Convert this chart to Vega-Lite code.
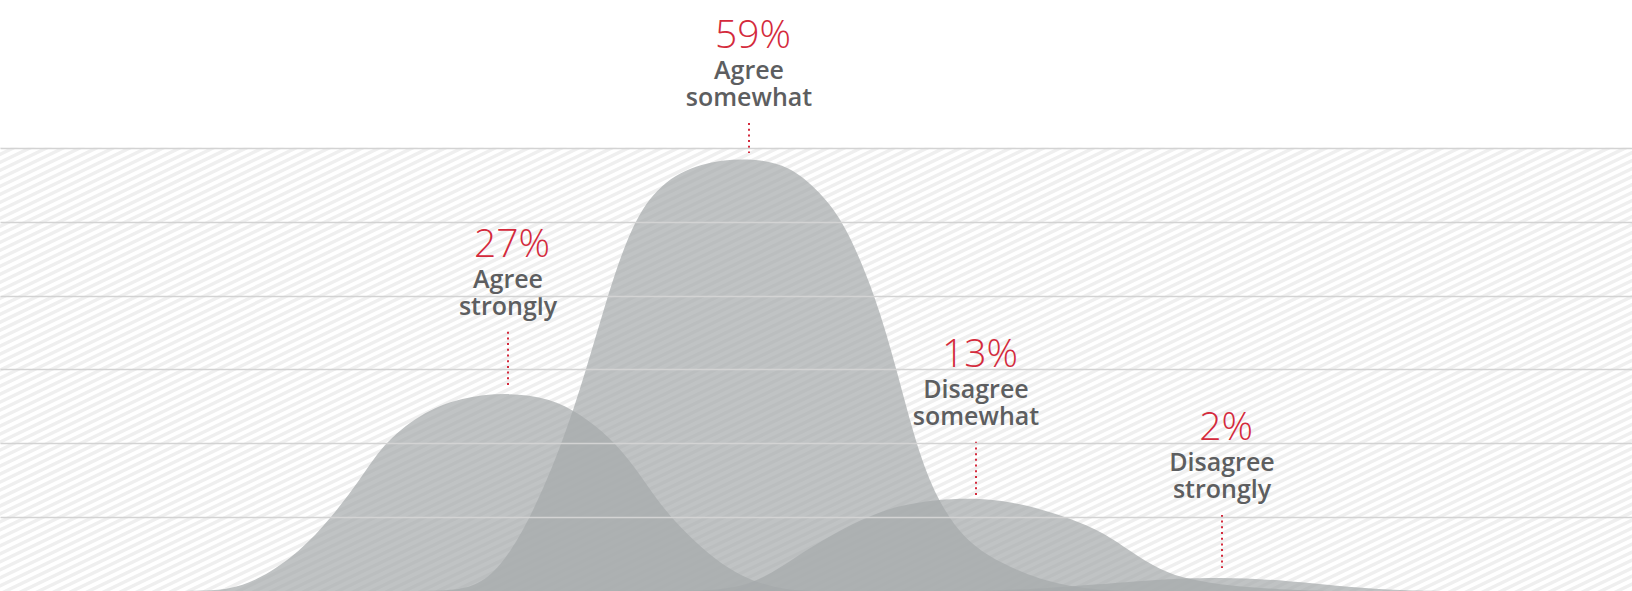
{
  "$schema": "https://vega.github.io/schema/vega-lite/v6.json",
  "width": 1632,
  "height": 591,
  "autosize": {"type": "fit", "contains": "padding"},
  "padding": 0,
  "background": "white",
  "config": {"view": {"stroke": null}},
  "datasets": {
    "curves": [
      {"category": "Agree strongly", "x": 150, "v": 0},
      {"category": "Agree strongly", "x": 200, "v": 0},
      {"category": "Agree strongly", "x": 230, "v": 0.2},
      {"category": "Agree strongly", "x": 260, "v": 1.6},
      {"category": "Agree strongly", "x": 300, "v": 5.3},
      {"category": "Agree strongly", "x": 331, "v": 9.9},
      {"category": "Agree strongly", "x": 360, "v": 15.0},
      {"category": "Agree strongly", "x": 382, "v": 19.8},
      {"category": "Agree strongly", "x": 420, "v": 24.0},
      {"category": "Agree strongly", "x": 460, "v": 26.2},
      {"category": "Agree strongly", "x": 508, "v": 26.9},
      {"category": "Agree strongly", "x": 550, "v": 26.1},
      {"category": "Agree strongly", "x": 580, "v": 24.0},
      {"category": "Agree strongly", "x": 610, "v": 20.8},
      {"category": "Agree strongly", "x": 635, "v": 16.8},
      {"category": "Agree strongly", "x": 657, "v": 12.3},
      {"category": "Agree strongly", "x": 680, "v": 8.6},
      {"category": "Agree strongly", "x": 710, "v": 4.8},
      {"category": "Agree strongly", "x": 735, "v": 2.5},
      {"category": "Agree strongly", "x": 758, "v": 1.1},
      {"category": "Agree strongly", "x": 787, "v": 0.1},
      {"category": "Agree strongly", "x": 820, "v": 0},
      {"category": "Agree somewhat", "x": 400, "v": 0},
      {"category": "Agree somewhat", "x": 450, "v": 0},
      {"category": "Agree somewhat", "x": 475, "v": 0.6},
      {"category": "Agree somewhat", "x": 500, "v": 3.0},
      {"category": "Agree somewhat", "x": 531, "v": 9.9},
      {"category": "Agree somewhat", "x": 562, "v": 19.8},
      {"category": "Agree somewhat", "x": 586, "v": 29.8},
      {"category": "Agree somewhat", "x": 607, "v": 39.8},
      {"category": "Agree somewhat", "x": 632, "v": 49.8},
      {"category": "Agree somewhat", "x": 660, "v": 55.2},
      {"category": "Agree somewhat", "x": 700, "v": 58.0},
      {"category": "Agree somewhat", "x": 749, "v": 58.7},
      {"category": "Agree somewhat", "x": 790, "v": 57.6},
      {"category": "Agree somewhat", "x": 820, "v": 54.0},
      {"category": "Agree somewhat", "x": 845, "v": 49.8},
      {"category": "Agree somewhat", "x": 876, "v": 39.8},
      {"category": "Agree somewhat", "x": 897, "v": 29.8},
      {"category": "Agree somewhat", "x": 916, "v": 19.8},
      {"category": "Agree somewhat", "x": 937, "v": 12.3},
      {"category": "Agree somewhat", "x": 965, "v": 6.8},
      {"category": "Agree somewhat", "x": 1000, "v": 3.8},
      {"category": "Agree somewhat", "x": 1040, "v": 1.5},
      {"category": "Agree somewhat", "x": 1080, "v": 0.4},
      {"category": "Agree somewhat", "x": 1120, "v": 0},
      {"category": "Disagree somewhat", "x": 680, "v": 0},
      {"category": "Disagree somewhat", "x": 720, "v": 0.1},
      {"category": "Disagree somewhat", "x": 758, "v": 1.1},
      {"category": "Disagree somewhat", "x": 800, "v": 5.0},
      {"category": "Disagree somewhat", "x": 835, "v": 7.9},
      {"category": "Disagree somewhat", "x": 870, "v": 10.2},
      {"category": "Disagree somewhat", "x": 900, "v": 11.6},
      {"category": "Disagree somewhat", "x": 937, "v": 12.4},
      {"category": "Disagree somewhat", "x": 975, "v": 12.6},
      {"category": "Disagree somewhat", "x": 1010, "v": 12.1},
      {"category": "Disagree somewhat", "x": 1050, "v": 10.8},
      {"category": "Disagree somewhat", "x": 1100, "v": 8.3},
      {"category": "Disagree somewhat", "x": 1130, "v": 5.4},
      {"category": "Disagree somewhat", "x": 1160, "v": 2.8},
      {"category": "Disagree somewhat", "x": 1190, "v": 1.5},
      {"category": "Disagree somewhat", "x": 1230, "v": 0.7},
      {"category": "Disagree somewhat", "x": 1280, "v": 0.2},
      {"category": "Disagree somewhat", "x": 1330, "v": 0},
      {"category": "Disagree strongly", "x": 980, "v": 0},
      {"category": "Disagree strongly", "x": 1040, "v": 0.3},
      {"category": "Disagree strongly", "x": 1100, "v": 0.9},
      {"category": "Disagree strongly", "x": 1150, "v": 1.5},
      {"category": "Disagree strongly", "x": 1220, "v": 1.9},
      {"category": "Disagree strongly", "x": 1290, "v": 1.4},
      {"category": "Disagree strongly", "x": 1350, "v": 0.5},
      {"category": "Disagree strongly", "x": 1400, "v": 0.1},
      {"category": "Disagree strongly", "x": 1450, "v": 0}
    ],
    "labels": [
      {"category": "Agree strongly", "pct": "27%", "line1": "Agree", "line2": "strongly", "x": 508, "lead_top": 35.1, "lead_bottom": 27.9},
      {"category": "Agree somewhat", "pct": "59%", "line1": "Agree", "line2": "somewhat", "x": 749, "lead_top": 63.35, "lead_bottom": 59.3},
      {"category": "Disagree somewhat", "pct": "13%", "line1": "Disagree", "line2": "somewhat", "x": 976, "lead_top": 20.2, "lead_bottom": 13.0},
      {"category": "Disagree strongly", "pct": "2%", "line1": "Disagree", "line2": "strongly", "x": 1222, "lead_top": 10.3, "lead_bottom": 3.1}
    ]
  },
  "layer": [
    {
      "data": {"values": [{}]},
      "mark": {"type": "rule", "clip": true, "color": "#efefef", "strokeWidth": 1800, "strokeDash": [3.4, 3.8], "strokeCap": "butt"},
      "encoding": {
        "x": {"datum": 556, "type": "quantitative", "scale": {"domain": [0, 1632], "nice": false, "zero": false}, "axis": null},
        "x2": {"datum": 1076},
        "y": {"datum": 103.1, "type": "quantitative", "title": null, "scale": {"domain": [0, 80], "nice": false}, "axis": {"values": [10, 20, 30, 40, 50, 60], "grid": true, "gridColor": "#d3d3d3", "gridWidth": 1.5, "labels": false, "ticks": false, "domain": false, "title": null, "zindex": 1}},
        "y2": {"datum": -43.3}
      }
    },
    {
      "data": {"values": [{}]},
      "mark": {"type": "rect", "color": "white"},
      "encoding": {
        "x": {"datum": 0, "type": "quantitative", "axis": null},
        "x2": {"datum": 1632},
        "y": {"datum": 60, "type": "quantitative", "title": null},
        "y2": {"datum": 80}
      }
    },
    {
      "data": {"name": "curves"},
      "mark": {"type": "area", "interpolate": "basis", "color": "#a5a9ab", "opacity": 0.7},
      "encoding": {
        "x": {"field": "x", "type": "quantitative", "axis": null},
        "y": {"field": "v", "type": "quantitative", "stack": null, "title": null},
        "detail": {"field": "category"}
      }
    },
    {
      "data": {"name": "labels"},
      "mark": {"type": "rule", "color": "#d42a3c", "strokeWidth": 2, "strokeDash": [2, 3.7]},
      "encoding": {
        "x": {"field": "x", "type": "quantitative", "axis": null},
        "y": {"field": "lead_top", "type": "quantitative", "title": null},
        "y2": {"field": "lead_bottom"}
      }
    },
    {
      "data": {"name": "labels"},
      "mark": {"type": "text", "font": "Open Sans", "fontWeight": 300, "fontSize": 39, "color": "#d42a3c", "align": "center", "baseline": "alphabetic", "dy": -75, "dx": 4},
      "encoding": {
        "x": {"field": "x", "type": "quantitative", "axis": null},
        "y": {"field": "lead_top", "type": "quantitative", "title": null},
        "text": {"field": "pct"}
      }
    },
    {
      "data": {"name": "labels"},
      "mark": {"type": "text", "font": "Open Sans", "fontWeight": 600, "fontSize": 25, "color": "#5d5e60", "align": "center", "baseline": "alphabetic", "dy": -44},
      "encoding": {
        "x": {"field": "x", "type": "quantitative", "axis": null},
        "y": {"field": "lead_top", "type": "quantitative", "title": null},
        "text": {"field": "line1"}
      }
    },
    {
      "data": {"name": "labels"},
      "mark": {"type": "text", "font": "Open Sans", "fontWeight": 600, "fontSize": 25, "color": "#5d5e60", "align": "center", "baseline": "alphabetic", "dy": -17},
      "encoding": {
        "x": {"field": "x", "type": "quantitative", "axis": null},
        "y": {"field": "lead_top", "type": "quantitative", "title": null},
        "text": {"field": "line2"}
      }
    }
  ]
}
